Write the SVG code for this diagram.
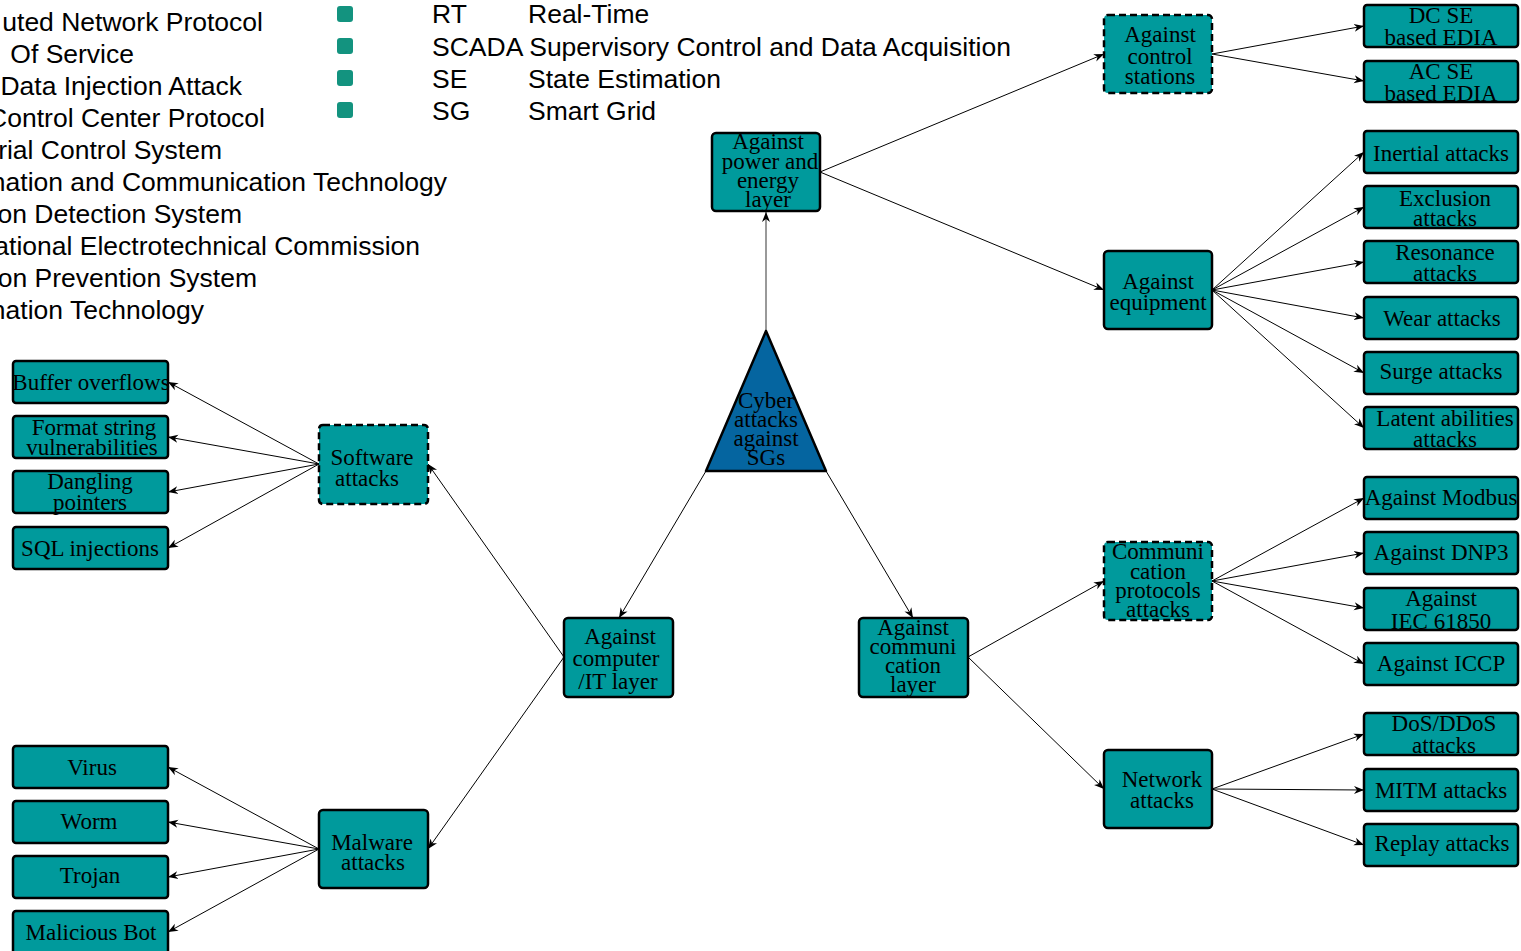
<svg xmlns="http://www.w3.org/2000/svg" width="1521" height="951" viewBox="0 0 1521 951">
<defs>
<marker id="ah" viewBox="0 0 10 10" refX="10" refY="5" markerWidth="10" markerHeight="10" markerUnits="userSpaceOnUse" orient="auto">
<path d="M0,1 L10,5 L0,9 L3,5 z" fill="#000"/>
</marker>
<style>
.lg{font-family:"Liberation Sans",Arial,sans-serif;font-size:26.5px;fill:#000}
.nd{fill:#009a9c;stroke:#000;stroke-width:2.5}
.ds{fill:#009a9c;stroke:#000;stroke-width:2.5;stroke-dasharray:7 4}
.tx{font-family:"Liberation Serif","Times New Roman",serif;font-size:23px;fill:#000;text-anchor:middle;dominant-baseline:central}
.cn{stroke:#000;stroke-width:1;fill:none;marker-end:url(#ah)}
.bl{fill:#13937f}
</style>
</defs>
<rect width="1521" height="951" fill="#fff"/>
<g id="legend">
<text class="lg" x="263" y="31" text-anchor="end">uted Network Protocol</text>
<text class="lg" x="134" y="63" text-anchor="end">Of Service</text>
<text class="lg" x="242" y="95" text-anchor="end">Data Injection Attack</text>
<text class="lg" x="265" y="127" text-anchor="end">Control Center Protocol</text>
<text class="lg" x="222" y="159" text-anchor="end">rial Control System</text>
<text class="lg" x="447" y="191" text-anchor="end">nation and Communication Technology</text>
<text class="lg" x="242" y="223" text-anchor="end">on Detection System</text>
<text class="lg" x="420" y="255" text-anchor="end">ational Electrotechnical Commission</text>
<text class="lg" x="257" y="287" text-anchor="end">on Prevention System</text>
<text class="lg" x="204" y="319" text-anchor="end">nation Technology</text>
<rect class="bl" x="337" y="6" width="16" height="16" rx="3"/>
<rect class="bl" x="337" y="38" width="16" height="16" rx="3"/>
<rect class="bl" x="337" y="70" width="16" height="16" rx="3"/>
<rect class="bl" x="337" y="102" width="16" height="16" rx="3"/>
<text class="lg" x="432" y="23">RT</text><text class="lg" x="528" y="23">Real-Time</text>
<text class="lg" x="432" y="56">SCADA Supervisory Control and Data Acquisition</text>
<text class="lg" x="432" y="88">SE</text><text class="lg" x="528" y="88">State Estimation</text>
<text class="lg" x="432" y="120">SG</text><text class="lg" x="528" y="120">Smart Grid</text>
</g>
<g id="connectors">
<line x1="766" y1="331" x2="766" y2="212" stroke="#777" stroke-width="1.5" marker-end="url(#ah)"/>
<line class="cn" x1="706" y1="471" x2="619" y2="618"/>
<line class="cn" x1="826" y1="471" x2="913" y2="618"/>
<line class="cn" x1="820" y1="172" x2="1104" y2="54"/>
<line class="cn" x1="820" y1="172" x2="1104" y2="290"/>
<line class="cn" x1="1212" y1="54" x2="1364" y2="26"/>
<line class="cn" x1="1212" y1="54" x2="1364" y2="81"/>
<line class="cn" x1="1212" y1="290" x2="1364" y2="152"/>
<line class="cn" x1="1212" y1="290" x2="1364" y2="207"/>
<line class="cn" x1="1212" y1="290" x2="1364" y2="262"/>
<line class="cn" x1="1212" y1="290" x2="1364" y2="318"/>
<line class="cn" x1="1212" y1="290" x2="1364" y2="373"/>
<line class="cn" x1="1212" y1="290" x2="1364" y2="428"/>
<line class="cn" x1="564" y1="657" x2="428" y2="464"/>
<line class="cn" x1="564" y1="657" x2="428" y2="849"/>
<line class="cn" x1="319" y1="464" x2="168" y2="382"/>
<line class="cn" x1="319" y1="464" x2="168" y2="437"/>
<line class="cn" x1="319" y1="464" x2="168" y2="492"/>
<line class="cn" x1="319" y1="464" x2="168" y2="548"/>
<line class="cn" x1="319" y1="849" x2="168" y2="767"/>
<line class="cn" x1="319" y1="849" x2="168" y2="822"/>
<line class="cn" x1="319" y1="849" x2="168" y2="877"/>
<line class="cn" x1="319" y1="849" x2="168" y2="932"/>
<line class="cn" x1="968" y1="657" x2="1104" y2="581"/>
<line class="cn" x1="968" y1="657" x2="1104" y2="789"/>
<line class="cn" x1="1212" y1="581" x2="1364" y2="498"/>
<line class="cn" x1="1212" y1="581" x2="1364" y2="553"/>
<line class="cn" x1="1212" y1="581" x2="1364" y2="608"/>
<line class="cn" x1="1212" y1="581" x2="1364" y2="664"/>
<line class="cn" x1="1212" y1="789" x2="1364" y2="734"/>
<line class="cn" x1="1212" y1="789" x2="1364" y2="790"/>
<line class="cn" x1="1212" y1="789" x2="1364" y2="845"/>
</g>
<g id="root">
<polygon points="766,331 706,471 826,471" fill="#0565a0" stroke="#000" stroke-width="2.5" stroke-linejoin="round"/>
<text class="tx" x="766" y="400">Cyber</text><text class="tx" x="766" y="419">attacks</text><text class="tx" x="766" y="438">against</text><text class="tx" x="766" y="457">SGs</text>
</g>
<g id="power"><rect class="nd" x="712" y="133" width="108" height="78" rx="4"/>
<text class="tx" x="768" y="141">Against</text><text class="tx" x="770" y="161">power and</text><text class="tx" x="768" y="180">energy</text><text class="tx" x="768" y="199">layer</text></g>
<g id="control"><rect class="ds" x="1104" y="15" width="108" height="78" rx="4"/>
<text class="tx" x="1160" y="34">Against</text><text class="tx" x="1160" y="56">control</text><text class="tx" x="1160" y="76">stations</text></g>
<g id="dcse"><rect class="nd" x="1364" y="5" width="154" height="42" rx="3"/>
<text class="tx" x="1441" y="15">DC SE</text><text class="tx" x="1441" y="37">based EDIA</text></g>
<g id="acse"><rect class="nd" x="1364" y="61" width="154" height="41" rx="3"/>
<text class="tx" x="1441" y="71">AC SE</text><text class="tx" x="1441" y="93">based EDIA</text></g>
<g id="equipment"><rect class="nd" x="1104" y="251" width="108" height="78" rx="4"/>
<text class="tx" x="1158" y="281">Against</text><text class="tx" x="1158" y="302">equipment</text></g>
<g id="inertial"><rect class="nd" x="1364" y="131" width="154" height="42" rx="3"/><text class="tx" x="1441" y="153">Inertial attacks</text></g>
<g id="exclusion"><rect class="nd" x="1364" y="186" width="154" height="42" rx="3"/><text class="tx" x="1445" y="198">Exclusion</text><text class="tx" x="1445" y="218">attacks</text></g>
<g id="resonance"><rect class="nd" x="1364" y="241" width="154" height="42" rx="3"/><text class="tx" x="1445" y="252">Resonance</text><text class="tx" x="1445" y="273">attacks</text></g>
<g id="wear"><rect class="nd" x="1364" y="297" width="154" height="42" rx="3"/><text class="tx" x="1442" y="318">Wear attacks</text></g>
<g id="surge"><rect class="nd" x="1364" y="352" width="154" height="42" rx="3"/><text class="tx" x="1441" y="371">Surge attacks</text></g>
<g id="latent"><rect class="nd" x="1364" y="407" width="154" height="42" rx="3"/><text class="tx" x="1445" y="418">Latent abilities</text><text class="tx" x="1445" y="439">attacks</text></g>
<g id="compute"><rect class="nd" x="564" y="618" width="109" height="79" rx="4"/>
<text class="tx" x="620" y="636">Against</text><text class="tx" x="616" y="658">computer</text><text class="tx" x="618" y="681">/IT layer</text></g>
<g id="commlayer"><rect class="nd" x="859" y="618" width="109" height="79" rx="4"/>
<text class="tx" x="913" y="627">Against</text><text class="tx" x="913" y="646">communi</text><text class="tx" x="913" y="665">cation</text><text class="tx" x="913" y="684">layer</text></g>
<g id="software"><rect class="ds" x="319" y="425" width="109" height="79" rx="4"/>
<text class="tx" x="372" y="457">Software</text><text class="tx" x="367" y="478">attacks</text></g>
<g id="malware"><rect class="nd" x="319" y="810" width="109" height="78" rx="4"/>
<text class="tx" x="372" y="842">Malware</text><text class="tx" x="373" y="862">attacks</text></g>
<g id="buffer"><rect class="nd" x="13" y="361" width="155" height="42" rx="3"/><text class="tx" x="91" y="382">Buffer overflows</text></g>
<g id="format"><rect class="nd" x="13" y="416" width="155" height="42" rx="3"/><text class="tx" x="94" y="427">Format string</text><text class="tx" x="92" y="447">vulnerabilities</text></g>
<g id="dangling"><rect class="nd" x="13" y="471" width="155" height="42" rx="3"/><text class="tx" x="90" y="481">Dangling</text><text class="tx" x="90" y="502">pointers</text></g>
<g id="sql"><rect class="nd" x="13" y="527" width="155" height="42" rx="3"/><text class="tx" x="90" y="548">SQL injections</text></g>
<g id="virus"><rect class="nd" x="13" y="746" width="155" height="42" rx="3"/><text class="tx" x="92" y="767">Virus</text></g>
<g id="worm"><rect class="nd" x="13" y="801" width="155" height="42" rx="3"/><text class="tx" x="89" y="821">Worm</text></g>
<g id="trojan"><rect class="nd" x="13" y="856" width="155" height="42" rx="3"/><text class="tx" x="90" y="875">Trojan</text></g>
<g id="bot"><rect class="nd" x="13" y="911" width="155" height="44" rx="3"/><text class="tx" x="91" y="932">Malicious Bot</text></g>
<g id="commproto"><rect class="ds" x="1104" y="542" width="108" height="78" rx="4"/>
<text class="tx" x="1158" y="551">Communi</text><text class="tx" x="1158" y="571">cation</text><text class="tx" x="1158" y="590">protocols</text><text class="tx" x="1158" y="609">attacks</text></g>
<g id="network"><rect class="nd" x="1104" y="750" width="108" height="78" rx="4"/>
<text class="tx" x="1162" y="779">Network</text><text class="tx" x="1162" y="800">attacks</text></g>
<g id="modbus"><rect class="nd" x="1364" y="477" width="154" height="42" rx="3"/><text class="tx" x="1441" y="497">Against Modbus</text></g>
<g id="dnp3"><rect class="nd" x="1364" y="532" width="154" height="42" rx="3"/><text class="tx" x="1441" y="552">Against  DNP3</text></g>
<g id="iec"><rect class="nd" x="1364" y="588" width="154" height="42" rx="3"/><text class="tx" x="1441" y="598">Against</text><text class="tx" x="1441" y="621">IEC 61850</text></g>
<g id="iccp"><rect class="nd" x="1364" y="643" width="154" height="42" rx="3"/><text class="tx" x="1441" y="663">Against ICCP</text></g>
<g id="dos"><rect class="nd" x="1364" y="713" width="154" height="42" rx="3"/><text class="tx" x="1444" y="723">DoS/DDoS</text><text class="tx" x="1444" y="745">attacks</text></g>
<g id="mitm"><rect class="nd" x="1364" y="769" width="154" height="42" rx="3"/><text class="tx" x="1441" y="790">MITM attacks</text></g>
<g id="replay"><rect class="nd" x="1364" y="824" width="154" height="42" rx="3"/><text class="tx" x="1442" y="843">Replay attacks</text></g>
</svg>
